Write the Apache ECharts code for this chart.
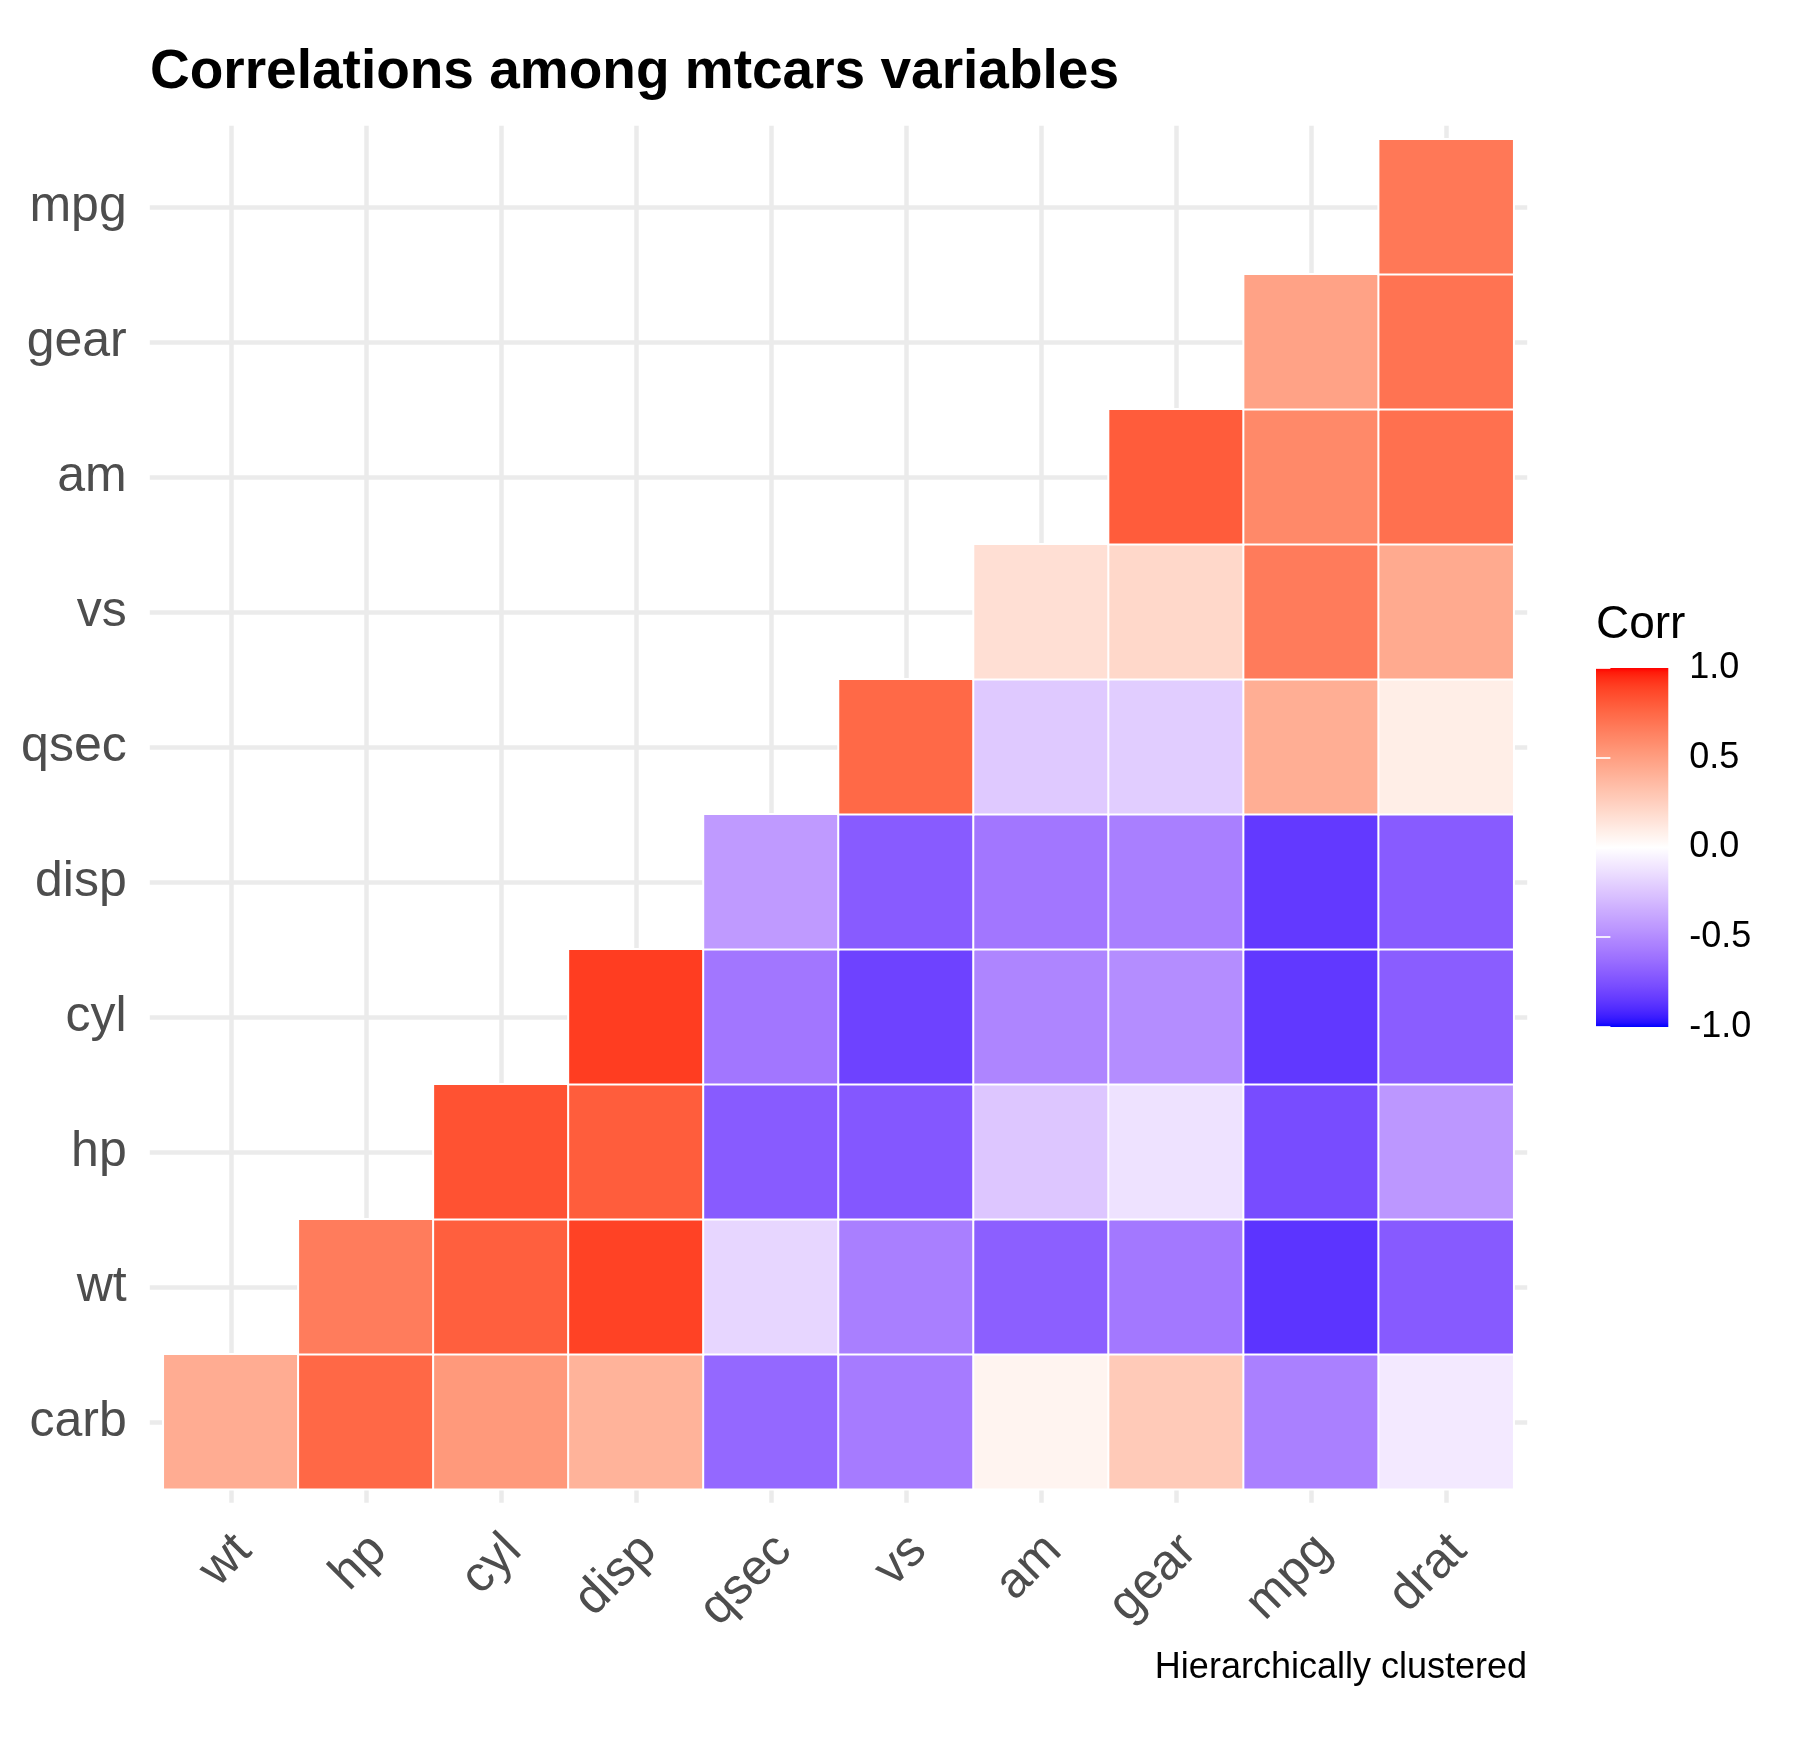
<!DOCTYPE html>
<html lang="en">
<head>
<meta charset="UTF-8">
<title>Correlations among mtcars variables</title>
<script src="https://cdn.jsdelivr.net/npm/echarts@6/dist/echarts.min.js"></script>
<style>
  html, body { margin: 0; padding: 0; background: #fff; }
  #main { width: 1800px; height: 1740px; }
</style>
</head>
<body>
<div id="main"></div>
<script>
// variable order after hierarchical clustering
var xVars = ['wt', 'hp', 'cyl', 'disp', 'qsec', 'vs', 'am', 'gear', 'mpg', 'drat'];
var yVars = ['carb', 'wt', 'hp', 'cyl', 'disp', 'qsec', 'vs', 'am', 'gear', 'mpg'];

// one row per y variable, columns follow xVars (null = hidden triangle)
var rowCarb = [0.428, 0.750, 0.527, 0.395, -0.656, -0.570, 0.058, 0.274, -0.551, -0.091];
var rowWt   = [null, 0.659, 0.782, 0.888, -0.175, -0.555, -0.692, -0.583, -0.868, -0.712];
var rowHp   = [null, null, 0.832, 0.791, -0.708, -0.723, -0.243, -0.126, -0.776, -0.449];
var rowCyl  = [null, null, null, 0.902, -0.591, -0.811, -0.523, -0.493, -0.852, -0.700];
var rowDisp = [null, null, null, null, -0.434, -0.710, -0.591, -0.556, -0.848, -0.710];
var rowQsec = [null, null, null, null, null, 0.745, -0.230, -0.213, 0.419, 0.091];
var rowVs   = [null, null, null, null, null, null, 0.168, 0.206, 0.664, 0.440];
var rowAm   = [null, null, null, null, null, null, null, 0.794, 0.600, 0.713];
var rowGear = [null, null, null, null, null, null, null, null, 0.480, 0.700];
var rowMpg  = [null, null, null, null, null, null, null, null, null, 0.681];

var scaleLimits = [-1, 1];

var rows = [rowCarb, rowWt, rowHp, rowCyl, rowDisp, rowQsec, rowVs, rowAm, rowGear, rowMpg];
var cells = [];
rows.forEach(function (row, yi) {
  row.forEach(function (v, xi) {
    if (v !== null) cells.push([xi, yi, v]);
  });
});

// blue - white - red, interpolated in CIE Lab like ggplot's gradient2
function rgb2lab(hex) {
  var c = [1, 3, 5].map(function (i) { return parseInt(hex.substr(i, 2), 16) / 255; })
    .map(function (v) { return v <= 0.04045 ? v / 12.92 : Math.pow((v + 0.055) / 1.055, 2.4); });
  var X = (0.4124 * c[0] + 0.3576 * c[1] + 0.1805 * c[2]) / 0.95047;
  var Y = (0.2126 * c[0] + 0.7152 * c[1] + 0.0722 * c[2]);
  var Z = (0.0193 * c[0] + 0.1192 * c[1] + 0.9505 * c[2]) / 1.08883;
  var f = function (t) { return t > 0.008856 ? Math.cbrt(t) : 7.787 * t + 16 / 116; };
  return [116 * f(Y) - 16, 500 * (f(X) - f(Y)), 200 * (f(Y) - f(Z))];
}
function lab2hex(lab) {
  var fy = (lab[0] + 16) / 116, fx = fy + lab[1] / 500, fz = fy - lab[2] / 200;
  var inv = function (t) { return t * t * t > 0.008856 ? t * t * t : (t - 16 / 116) / 7.787; };
  var X = 0.95047 * inv(fx), Y = inv(fy), Z = 1.08883 * inv(fz);
  var rgb = [
    3.2406 * X - 1.5372 * Y - 0.4986 * Z,
    -0.9689 * X + 1.8758 * Y + 0.0415 * Z,
    0.0557 * X - 0.2040 * Y + 1.0570 * Z
  ].map(function (v) {
    v = v <= 0.0031308 ? 12.92 * v : 1.055 * Math.pow(v, 1 / 2.4) - 0.055;
    v = Math.round(Math.max(0, Math.min(1, v)) * 255);
    return ('0' + v.toString(16)).slice(-2);
  });
  return '#' + rgb.join('');
}
var lowLab = rgb2lab('#0000ff'), midLab = rgb2lab('#ffffff'), highLab = rgb2lab('#ff0000');
var N = 80;
var ramp = [];
for (var i = 0; i <= N; i++) {
  var t = i / N, a, b, k;
  if (t <= 0.5) { a = lowLab; b = midLab; k = t / 0.5; } else { a = midLab; b = highLab; k = (t - 0.5) / 0.5; }
  ramp.push(lab2hex([0, 1, 2].map(function (j) { return a[j] + (b[j] - a[j]) * k; })));
}
var barStops = ramp.map(function (c, i) { return { offset: 1 - i / N, color: c }; }).reverse();

var FONT = 'Liberation Sans';
var chart = echarts.init(document.getElementById('main'));

chart.setOption({
  backgroundColor: '#ffffff',
  animation: false,
  title: [
    { text: 'Correlations among mtcars variables', left: 150, top: 45, padding: 0,
      textStyle: { fontFamily: FONT, fontSize: 55, fontWeight: 'bold', color: '#000' } },
    { text: 'Corr', left: 1596, top: 602, padding: 0,
      textStyle: { fontFamily: FONT, fontSize: 46, fontWeight: 'normal', color: '#000' } },
    { text: 'Hierarchically clustered', right: 273, top: 1650, padding: 0,
      textStyle: { fontFamily: FONT, fontSize: 36, fontWeight: 'normal', color: '#000' } }
  ],
  grid: [
    { left: 163.3, right: 286.3, top: 139.3, bottom: 250.7 },  // tiles
    { left: 149.8, right: 272.8, top: 125.8, bottom: 237.2 },  // panel grid lines
    { left: 1596, top: 667.9, width: 72.3, height: 359.1 }     // colour bar
  ],
  xAxis: [
    { gridIndex: 0, type: 'category', data: xVars,
      axisLine: { show: false }, axisTick: { show: false }, splitLine: { show: false },
      axisLabel: { interval: 0, rotate: 45, align: 'right', verticalAlign: 'top', margin: 31,
        padding: [0, 7, 0, 0], fontFamily: FONT, fontSize: 50, color: '#4d4d4d' } },
    { gridIndex: 1, type: 'value', min: -0.6, max: 9.6,
      axisLine: { show: false },
      axisTick: { show: false, customValues: xVars.map(function (d, i) { return i; }) },
      axisLabel: { show: false },
      splitLine: { show: true, lineStyle: { color: '#ebebeb', width: 4.5 } } },
    { gridIndex: 2, type: 'value', min: 0, max: 1, show: false }
  ],
  yAxis: [
    { gridIndex: 0, type: 'category', data: yVars,
      axisLine: { show: false }, axisTick: { show: false }, splitLine: { show: false },
      axisLabel: { interval: 0, margin: 36.6, fontFamily: FONT, fontSize: 50, color: '#4d4d4d' } },
    { gridIndex: 1, type: 'value', min: -0.6, max: 9.6,
      axisLine: { show: false },
      axisTick: { show: false, customValues: yVars.map(function (d, i) { return i; }) },
      axisLabel: { show: false },
      splitLine: { show: true, lineStyle: { color: '#ebebeb', width: 4.5 } } },
    { gridIndex: 2, type: 'value', position: 'right', min: scaleLimits[0], max: scaleLimits[1], interval: 0.5, z: 10,
      axisLine: { show: false }, splitLine: { show: false },
      axisTick: { show: true, inside: true, length: 14.4, lineStyle: { color: '#fff', width: 1.7 } },
      axisLabel: { margin: 21, fontFamily: FONT, fontSize: 36, color: '#000',
        formatter: function (v) { return v.toFixed(1); } } },
    { gridIndex: 2, type: 'value', position: 'left', min: scaleLimits[0], max: scaleLimits[1], interval: 0.5, z: 10,
      axisLine: { show: false }, splitLine: { show: false }, axisLabel: { show: false },
      axisTick: { show: true, inside: true, length: 14.4, lineStyle: { color: '#fff', width: 1.7 } } }
  ],
  visualMap: {
    show: false, type: 'continuous', min: scaleLimits[0], max: scaleLimits[1],
    seriesIndex: 0, dimension: 2, inRange: { color: ramp }
  },
  series: [
    { type: 'heatmap', xAxisIndex: 0, yAxisIndex: 0, data: cells,
      itemStyle: { borderColor: '#ffffff', borderWidth: 2 },
      emphasis: { disabled: true } },
    { type: 'custom', xAxisIndex: 2, yAxisIndex: 2, silent: true, data: [[0, 0]],
      renderItem: function (params, api) {
        var tl = api.coord([0, scaleLimits[1]]);
        var br = api.coord([1, scaleLimits[0]]);
        return { type: 'rect',
          shape: { x: tl[0], y: tl[1], width: br[0] - tl[0], height: br[1] - tl[1] },
          style: { fill: new echarts.graphic.LinearGradient(0, 0, 0, 1, barStops) } };
      } }
  ]
});
</script>
</body>
</html>
